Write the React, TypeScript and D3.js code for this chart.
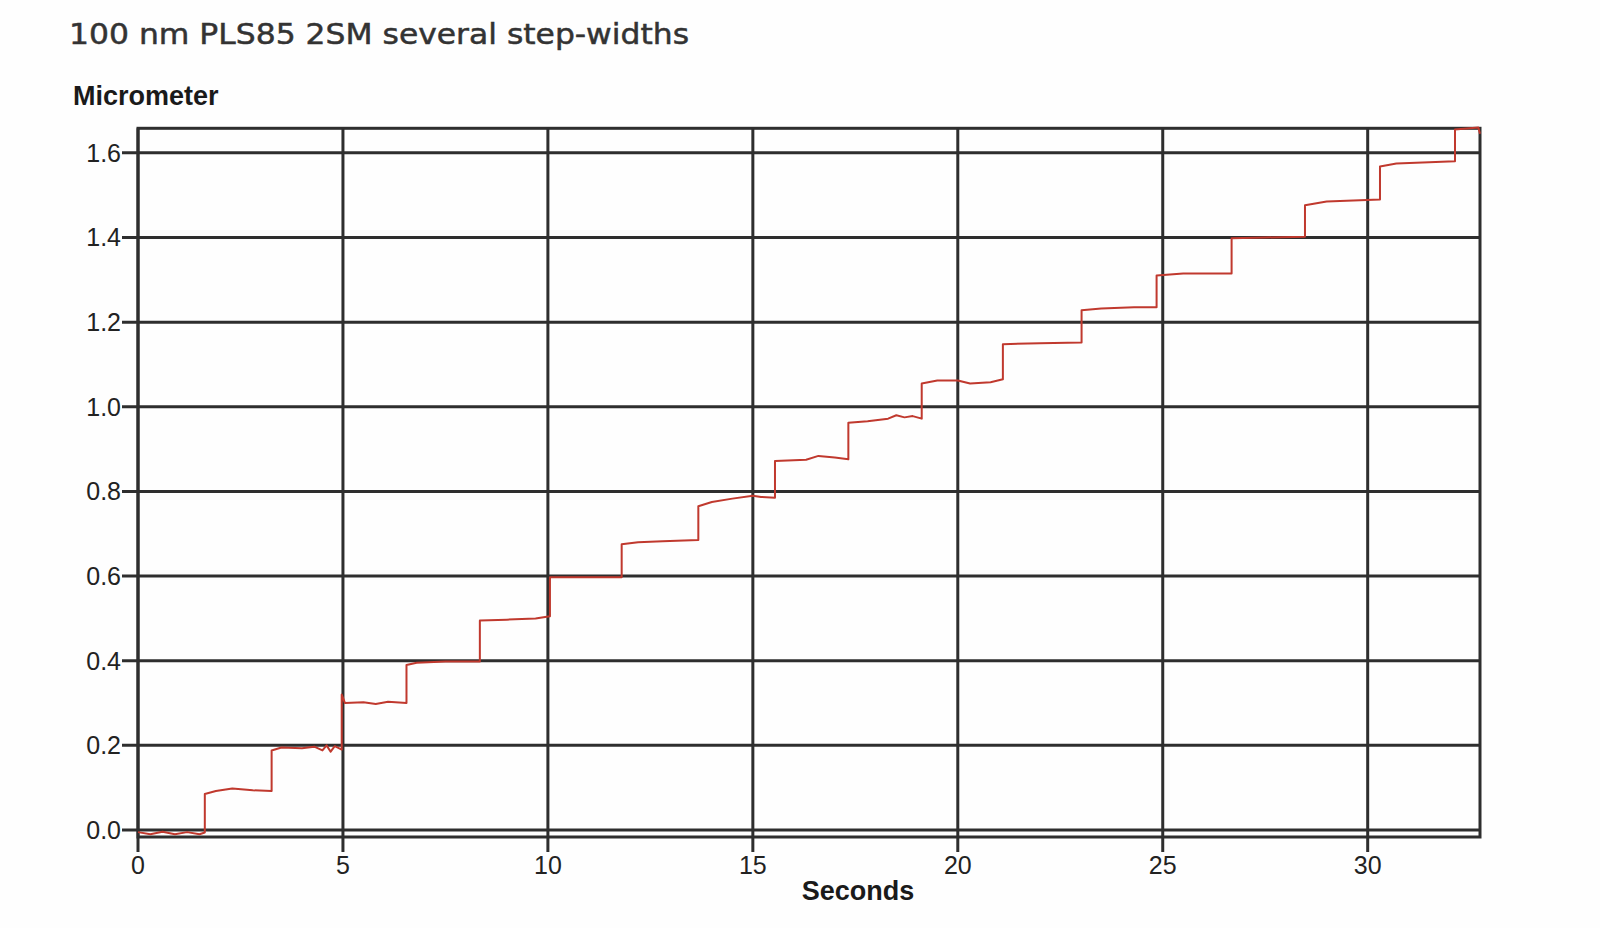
import React from "react";
import * as d3 from "d3";

const title = "100 nm PLS85 2SM several step-widths";
const yLabel = "Micrometer";
const xLabel = "Seconds";

const xTicks = [0, 5, 10, 15, 20, 25, 30];
const yTicks = [0.0, 0.2, 0.4, 0.6, 0.8, 1.0, 1.2, 1.4, 1.6];

const xDomain = [0, 32.74];
const yDomain = [-0.0165, 1.658];

// Measured trace: time (s) and position (µm)
const seconds = [
  0, 0.3, 0.6, 0.9, 1.2, 1.5, 1.63,
  1.63, 1.9, 2.3, 2.8, 3.26,
  3.26, 3.5, 4.0, 4.3, 4.5, 4.6, 4.7, 4.8, 4.97,
  4.97, 5.05, 5.5, 5.8, 6.1, 6.55,
  6.55, 6.8, 7.5, 8.34,
  8.34, 9.0, 9.7, 10.05,
  10.05, 11.0, 11.8,
  11.8, 12.2, 12.8, 13.67,
  13.67, 14.0, 14.5, 15.0, 15.2, 15.54,
  15.54, 16.3, 16.6, 17.0, 17.33,
  17.33, 17.8, 18.3, 18.5, 18.7, 18.9, 19.12,
  19.12, 19.5, 20.0, 20.3, 20.8, 21.1,
  21.1, 22.0, 23.02,
  23.02, 23.5, 24.3, 24.85,
  24.85, 25.5, 26.68,
  26.68, 27.5, 28.47,
  28.47, 29.0, 30.3,
  30.3, 30.7, 31.5, 32.13,
  32.13, 32.7, 32.74,
];
const micrometers = [
  -0.005, -0.01, -0.004, -0.01, -0.005, -0.01, -0.006,
  0.085, 0.092, 0.098, 0.094, 0.092,
  0.188, 0.195, 0.193, 0.197, 0.188, 0.2, 0.185, 0.198, 0.19,
  0.32, 0.3, 0.302, 0.298, 0.303, 0.3,
  0.39, 0.395, 0.398, 0.398,
  0.495, 0.497, 0.5, 0.505,
  0.597, 0.597, 0.597,
  0.675, 0.68, 0.682, 0.685,
  0.765, 0.775, 0.783, 0.79, 0.787, 0.785,
  0.872, 0.875, 0.884, 0.88, 0.876,
  0.962, 0.966, 0.972, 0.98, 0.975, 0.978, 0.972,
  1.055, 1.062, 1.062, 1.055, 1.058, 1.065,
  1.148, 1.15, 1.152,
  1.228, 1.232, 1.235, 1.235,
  1.31, 1.315, 1.315,
  1.398, 1.4, 1.402,
  1.476, 1.485, 1.49,
  1.568, 1.575, 1.578, 1.58,
  1.655, 1.66, 1.645,
];

export default function App() {
  const W = 1600, H = 928;
  const left = 138, right = 1480, top = 128.3, bottom = 837;
  const x = d3.scaleLinear().domain(xDomain).range([left, right]);
  const y = d3.scaleLinear().domain(yDomain).range([bottom, top]);
  const pts: [number, number][] = seconds.map((s, i) => [s, micrometers[i]]);
  const line = d3.line<[number, number]>().x(d => x(d[0])).y(d => y(d[1]));
  const grid = "#2e2e2e";
  const fmt = d3.format(".1f");

  return (
    <svg width={W} height={H} style={{ position: "absolute", left: 0, top: 0, background: "#fff" }}>
      <rect x={0} y={0} width={W} height={H} fill="#fefefe" />
      <text x={69} y={44} fontFamily="DejaVu Sans" fontSize={29} fill="#333" stroke="#333" strokeWidth={0.5} textLength={620} lengthAdjust="spacingAndGlyphs">{title}</text>
      <text x={73} y={105} fontFamily="Liberation Sans, Arial" fontWeight="bold" fontSize={27} fill="#1a1a1a">{yLabel}</text>

      {yTicks.map(t => (
        <g key={"y" + t}>
          <line x1={122} x2={right} y1={y(t)} y2={y(t)} stroke={grid} strokeWidth={3} />
          <text x={121} y={y(t)} dy="0.36em" textAnchor="end" fontFamily="Liberation Sans, Arial" fontSize={25} fill="#222">{fmt(t)}</text>
        </g>
      ))}
      {xTicks.map(t => (
        <g key={"x" + t}>
          <line x1={x(t)} x2={x(t)} y1={top} y2={852} stroke={grid} strokeWidth={3} />
          <text x={x(t)} y={874} textAnchor="middle" fontFamily="Liberation Sans, Arial" fontSize={25} fill="#222">{t}</text>
        </g>
      ))}
      <rect x={left} y={top} width={right - left} height={bottom - top} fill="none" stroke={grid} strokeWidth={3} />

      <path d={line(pts) || ""} fill="none" stroke="#c0392e" strokeWidth={2} strokeLinejoin="round" />

      <text x={858} y={900} textAnchor="middle" fontFamily="Liberation Sans, Arial" fontWeight="bold" fontSize={27} fill="#1a1a1a">{xLabel}</text>
    </svg>
  );
}
